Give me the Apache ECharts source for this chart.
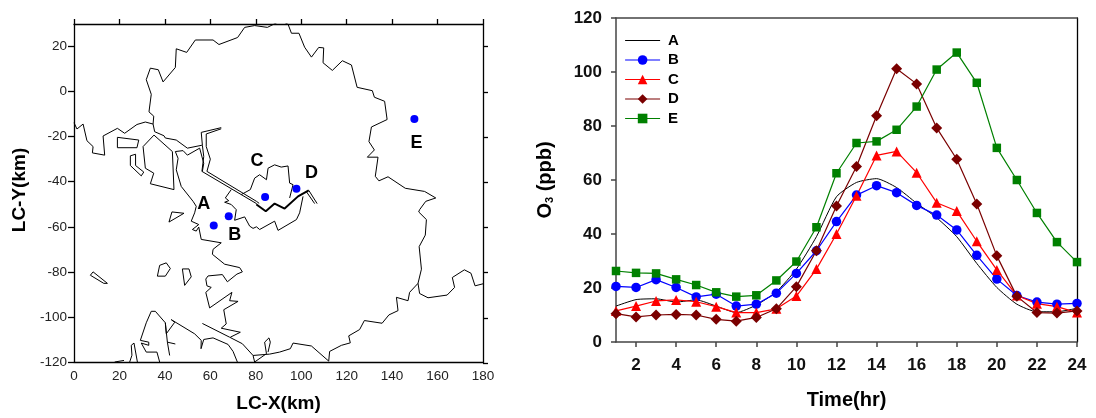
<!DOCTYPE html>
<html><head><meta charset="utf-8">
<style>html,body{margin:0;padding:0;background:#fff}#c{width:1096px;height:418px}</style>
<script src="https://cdn.jsdelivr.net/npm/echarts@6/dist/echarts.min.js"></script>
</head><body><div id="c"></div>
<script>
// Right panel data
const hours=[1,2,3,4,5,6,7,8,9,10,11,12,13,14,15,16,17,18,19,20,21,22,23,24];
const seriesA=[13.3,15.7,16,14.8,15.6,13.3,10.9,13.7,18.6,27,39,53.8,59.1,60.5,57.2,51.4,46,39,29.1,20.2,14,11.2,11.2,12.5];
const seriesB=[20.6,20.2,23.1,20.2,16.7,17.7,13.3,14,18.1,25.4,33.8,44.6,54.4,57.9,55.3,50.6,47,41.5,32.1,23.3,17.2,14.8,14,14.3];
const seriesC=[11.5,13.3,15.2,15.6,14.9,13.1,10.9,10.9,12.3,17,27,40,54.2,69.1,70.6,62.7,51.6,48.5,37.3,26.7,17.2,14.2,13.1,10.9];
const seriesD=[10.5,9.3,10,10.2,10,8.4,7.7,9.1,12.3,20.5,33.8,50.4,65,83.8,101.2,95.6,79.3,67.7,51.1,31.9,16.9,10.9,10.7,11.5];
const seriesE=[26.3,25.6,25.4,23.2,21.1,18.4,16.8,17.3,22.8,29.8,42.5,62.5,73.7,74.3,78.6,87.2,100.9,107.2,96,71.9,60,47.8,37,29.6];
const hourTicks=[2,4,6,8,10,12,14,16,18,20,22,24];
const ppbTicks=[0,20,40,60,80,100,120];
const kmXTicks=[0,20,40,60,80,100,120,140,160,180];
const kmYTicks=[-120,-100,-80,-60,-40,-20,0,20];
// Left panel sites
const siteNames=['A','B','C','D','E'];
const siteX=[61.5,68.1,84.1,97.9,149.8];
const siteY=[-59.4,-55.3,-46.8,-43.1,-12.2];
// Left panel outlines (km)
const coastWest=[[0,-13.8],[1.3,-16.6],[4,-14.4],[5.7,-21.8],[8.4,-24.4],[8.1,-27.2],[13.5,-28.2],[12.8,-19.7],[19.1,-16.3],[22.3,-18.5],[27.7,-14.6],[31.4,-13.5],[34.8,-14.4],[35.5,-17.8],[39.6,-19.6],[40.2,-20.6],[45,-21.5],[49.9,-25.1],[56.3,-23.8]];
const northLoop=[[34.8,-14.4],[35.1,-10.9],[33,-9],[34,-1.2],[31.8,5.3],[33.6,10.4],[37.1,9.7],[39.2,4.3],[44.6,10.7],[45,19],[49.6,17.4],[53.4,22.9],[61.2,22.9],[63.8,20.9],[72,24],[75.1,28.5],[79.5,29.3],[85.1,28.5],[87.9,29.9],[91,31.5],[94.2,29.9],[95.7,25.9],[99,25.9],[101.5,19.7],[104.5,15.3],[107.7,19.6],[109.9,19.4],[109.6,12.8],[113.7,9.4],[118.1,13.7],[122.1,11.8],[124.6,1.9],[131.3,0.4],[132.2,-2.5],[136.7,-4.3],[137.8,-12.4],[130.9,-15.7],[129.8,-22.2],[132.2,-25.9],[129.1,-29.1],[133.8,-29.1],[132.6,-37.6],[134.2,-39.6],[138.2,-37.8],[145.8,-42.9],[154.3,-44.3],[159.2,-47.2],[154.8,-48.7],[152.1,-52.4],[151.7,-53.4],[155.1,-56.8],[154.6,-63.7],[151.9,-68.8],[152.9,-78.8],[151.4,-85.1],[147.7,-89.1],[147,-92.8],[141.9,-91.3],[142.6,-97.2],[138.6,-99.1],[135.6,-102.8],[127.8,-101.6],[125.7,-105.6],[120.9,-108.4],[121.6,-111.5],[117.7,-112.6],[112.5,-115.3],[112.1,-119.6],[104.5,-112.9],[96.4,-111.6],[95.2,-114.1],[90.5,-115.6],[86.1,-116.5],[85.4,-116.5],[78.8,-117.1],[74.1,-111.9],[68.5,-109],[56.5,-102.9]];
const eastSpur=[[151.4,-85.1],[152.1,-89.6],[155.8,-91.5],[164.2,-90.3],[167.5,-86.9],[166.5,-82.5],[171.8,-79.1],[174.7,-80.6],[176.5,-86.2],[180,-85.3]];
const roadOne=[[64.8,-16],[56,-18.1],[56.5,-23.8],[57.1,-28.8],[56.3,-35.4],[80.3,-49.7],[80.3,-50.1]];
const roadTwo=[[64.8,-16.5],[58.2,-18.8],[58.2,-24.4],[60,-30],[58.5,-35.4],[80.3,-48.7],[81.5,-49.6]];
const roadThick=[[80.3,-50.1],[84.4,-53.1],[88.3,-49.7],[92.7,-51.9],[98.6,-46.5],[103.3,-43.8]];
const roadEndOne=[[103.3,-43.8],[107,-49.7]];
const roadEndTwo=[[102.2,-44.3],[105.9,-49.7]];
const coastLink=[[44.6,-26.6],[48,-26.2],[49.9,-28.2],[55.3,-25.1],[57.1,-31.8],[56.5,-35.4]];
const coastMid=[[44.6,-26.6],[45.8,-29.6],[45,-34.7],[47.2,-42.1],[52.4,-48.7],[53.8,-50.9],[53.1,-53.8],[51.6,-57.5],[54.9,-59],[52.1,-61.2],[53.8,-61.9],[54.9,-60.1],[56,-65.6],[64.8,-67.1],[61.2,-70],[60.9,-72.2],[66.3,-76.6],[72.9,-78.1],[74.1,-80],[71.7,-81],[67.5,-84.4],[65.3,-81.2],[59,-81.8],[58,-83.2],[58.5,-86.2],[60.4,-86.9],[58,-89.1],[59.7,-96],[69.5,-89.1],[68.5,-92.8],[72.2,-93.1],[65.9,-96.8],[67,-103.1],[64.8,-105],[73.2,-106.8],[68.8,-109]];
const coastSouth=[[37.7,-120],[36.5,-115.6],[31.8,-115.6],[29.6,-111.6],[32.9,-112.6],[32.9,-111.2],[29.2,-110.4],[31.8,-102.6],[34,-97.5],[35.8,-97.5],[40.2,-102.6],[40.6,-107.5],[44.3,-102.4],[42.8,-101.2],[53.1,-107.5],[56,-110.4],[55.9,-114.1],[57.1,-110],[61.2,-109.3],[67.8,-112.2],[70,-115.3],[71.9,-120]];
const spikeSouth=[[40.2,-102.6],[41.1,-111.2],[42.1,-117.1]];
const spikeCross=[[41.1,-111.2],[44.6,-112]];
const stubOne=[[17.9,-120],[22,-119.3]];
const stubTwo=[[24.5,-120],[25.5,-117],[25.2,-112.6],[26.4,-111.6],[27.9,-120]];
const stubThree=[[78.8,-117.1],[79.5,-120],[84.7,-116.3],[83.9,-111.2],[85.8,-109.3],[86.4,-111.2],[85.4,-115.6]];
const isleOne=[[19.1,-20.3],[28.5,-21.5],[27.7,-24.9],[19.1,-24.9],[19.1,-20.3]];
const isleTwo=[[30.4,-24.4],[35.2,-19.3],[43.3,-26.6],[44,-43.5],[33.6,-40.9],[35.1,-36.2],[31.4,-34],[30.4,-24.4]];
const isleThree=[[24.8,-28.5],[27.1,-27.8],[27.1,-32.8],[30.7,-35.7],[29.6,-37.4],[24.8,-32.8],[24.8,-28.5]];
const isleFour=[[7.2,-81.5],[8.4,-80],[14.7,-85.1],[13.1,-85.1],[7.2,-81.5]];
const isleFive=[[36.7,-81.9],[37.7,-77.1],[40.6,-76],[42.4,-78.5],[40.2,-81.9],[36.7,-81.9]];
const isleSix=[[47.7,-78.7],[50.6,-78.7],[51.6,-82.2],[48.7,-86],[47.7,-78.7]];
const isleSeven=[[41.8,-57.9],[43.1,-53.4],[48.4,-54],[41.8,-57.9]];
const urbanSouth=[[69.2,-43.5],[66.6,-47.2],[68.1,-48.4],[66.3,-49.1],[69.2,-50.1],[71.4,-52.4],[70.7,-57.1],[75.1,-55.6],[77.3,-59.7],[78.8,-60.7],[80.3,-60],[81.7,-61.2],[88.3,-57.5],[89.8,-61.6],[97.9,-56.8],[99.3,-53.8],[100.8,-46.5]];
const urbanNorth=[[73.6,-45.7],[77.6,-43.5],[79.5,-38.4],[81.7,-36.9],[84.7,-39.1],[85.4,-34],[88.3,-32.5],[91.2,-33.5],[94.2,-33],[94.9,-40.6],[96.4,-41.3],[94.9,-47.2]];

const thinLines=[coastWest,northLoop,eastSpur,roadOne,roadTwo,roadEndOne,roadEndTwo,coastLink,coastMid,coastSouth,spikeSouth,spikeCross,stubOne,stubTwo,stubThree,isleOne,isleTwo,isleThree,isleFour,isleFive,isleSix,isleSeven,urbanSouth,urbanNorth];

const FONT='"Liberation Sans", Arial, sans-serif';
const mapSeries=thinLines.map((d,i)=>({name:'map'+i,type:'line',xAxisIndex:0,yAxisIndex:0,data:d,showSymbol:false,symbol:'none',silent:true,lineStyle:{color:'#000',width:1},z:2}));
mapSeries.push({name:'mapThick',type:'line',xAxisIndex:0,yAxisIndex:0,data:roadThick,showSymbol:false,symbol:'none',silent:true,lineStyle:{color:'#000',width:2},z:2});

const labelOffsets=[[-10,-21],[6,19],[-8,-36],[15,-16],[2,24]];
const sites={name:'sites',type:'scatter',xAxisIndex:0,yAxisIndex:0,symbol:'circle',symbolSize:8,itemStyle:{color:'#0000ff',opacity:1},z:4,
  data:siteNames.map((n,i)=>({value:[siteX[i],siteY[i]],name:n,label:{show:true,formatter:n,position:'inside',offset:labelOffsets[i],color:'#000',opacity:1,fontFamily:FONT,fontWeight:'bold',fontSize:18}}))};

function ozone(name,vals,color,symbol,size,extra){
  return Object.assign({name,type:'line',xAxisIndex:3,yAxisIndex:3,data:hours.map((h,i)=>[h,vals[i]]),
    symbol,symbolSize:size,showSymbol:symbol!=='none',clip:false,itemStyle:{color},lineStyle:{color,width:1.2},z:5},extra||{});
}
const ozoneSeries=[
  ozone('A',seriesA,'#000000','none',0,{smooth:0.2,z:4,lineStyle:{color:'#000',width:1}}),
  ozone('B',seriesB,'#0000ff','circle',9.5),
  ozone('C',seriesC,'#ff0000','triangle',10),
  ozone('D',seriesD,'#7a0000','diamond',11),
  ozone('E',seriesE,'#008000','rect',8.5)
];

const blk={color:'#000',width:1.3};
const gry={color:'#444',width:1.5};
const lblL={fontFamily:FONT,fontSize:13.5,color:'#222'};
const lblR={fontFamily:FONT,fontSize:17,fontWeight:'bold',color:'#111'};

const chart=echarts.init(document.getElementById('c'),null,{renderer:'canvas'});
chart.setOption({
  animation:false,backgroundColor:'#fff',tooltip:{show:false},
  grid:[
    {left:74,right:613,top:24,bottom:55},
    {left:74,right:613,top:24,bottom:55},
    {left:616,right:19,top:18,bottom:76},
    {left:616,right:19,top:18,bottom:76}
  ],
  legend:{show:true,data:[{name:'A',itemStyle:{opacity:0}},'B','C','D','E'],left:624.5,top:33,orient:'vertical',itemWidth:35,itemHeight:12,itemGap:4.5,
    lineStyle:{width:1.2},
    textStyle:{fontFamily:FONT,fontWeight:'bold',fontSize:15,lineHeight:14,color:'#000',padding:[0,0,0,3]},selectedMode:false,padding:0},
  xAxis:[
    {gridIndex:0,type:'value',position:'bottom',min:0,max:180,interval:20,splitLine:{show:false},axisLine:{onZero:false,lineStyle:blk},axisTick:{show:false},
     axisLabel:Object.assign({margin:7,customValues:kmXTicks},lblL),name:'LC-X(km)',nameLocation:'middle',nameGap:32,nameTextStyle:{fontFamily:FONT,fontWeight:'bold',fontSize:19,color:'#000'}},
    {gridIndex:1,type:'value',position:'top',min:0,max:180,interval:20,splitLine:{show:false},axisLine:{onZero:false,lineStyle:blk},axisTick:{length:5,lineStyle:blk},axisLabel:{show:false}},
    {gridIndex:2,type:'value',position:'top',min:1,max:24,splitLine:{show:false},axisLine:{onZero:false,lineStyle:gry},axisTick:{show:false},axisLabel:{show:false}},
    {gridIndex:3,type:'value',position:'bottom',min:1,max:24,splitLine:{show:false},axisLine:{onZero:false,lineStyle:gry},axisTick:{length:5,lineStyle:gry,customValues:hourTicks},
     axisLabel:Object.assign({margin:15,customValues:hourTicks},lblR),name:'Time(hr)',nameLocation:'middle',nameGap:48,nameTextStyle:{fontFamily:FONT,fontWeight:'bold',fontSize:20,color:'#000'}}
  ],
  yAxis:[
    {gridIndex:0,type:'value',position:'left',min:-120,max:30,interval:20,splitLine:{show:false},axisLine:{onZero:false,lineStyle:blk},axisTick:{length:6,lineStyle:blk,customValues:kmYTicks},
     axisLabel:Object.assign({margin:7,customValues:kmYTicks},lblL),name:'LC-Y(km)',nameLocation:'middle',nameRotate:90,nameGap:45,nameTextStyle:{fontFamily:FONT,fontWeight:'bold',fontSize:19,color:'#000',padding:[0,0,0,6]}},
    {gridIndex:1,type:'value',position:'right',min:-120,max:30,interval:20,splitLine:{show:false},axisLine:{onZero:false,lineStyle:blk},axisTick:{length:5,lineStyle:blk,customValues:kmYTicks},axisLabel:{show:false}},
    {gridIndex:2,type:'value',position:'right',min:0,max:120,interval:20,splitLine:{show:false},axisLine:{onZero:false,lineStyle:blk},axisTick:{show:false},axisLabel:{show:false}},
    {gridIndex:3,type:'value',position:'left',min:0,max:120,interval:20,splitLine:{show:false},axisLine:{onZero:false,lineStyle:gry},axisTick:{length:5,lineStyle:gry,customValues:ppbTicks},
     axisLabel:Object.assign({margin:14,customValues:ppbTicks},lblR),
     name:'{a|O}{b|3}{a| (ppb)}',nameLocation:'middle',nameRotate:90,nameGap:61,
     nameTextStyle:{rich:{a:{fontFamily:FONT,fontWeight:'bold',fontSize:20,color:'#000'},b:{fontFamily:FONT,fontWeight:'bold',fontSize:11,lineHeight:12,color:'#000',verticalAlign:'bottom',padding:[14,0,0,0]}}}}
  ],
  series:[...mapSeries,sites,...ozoneSeries]
});
</script></body></html>
